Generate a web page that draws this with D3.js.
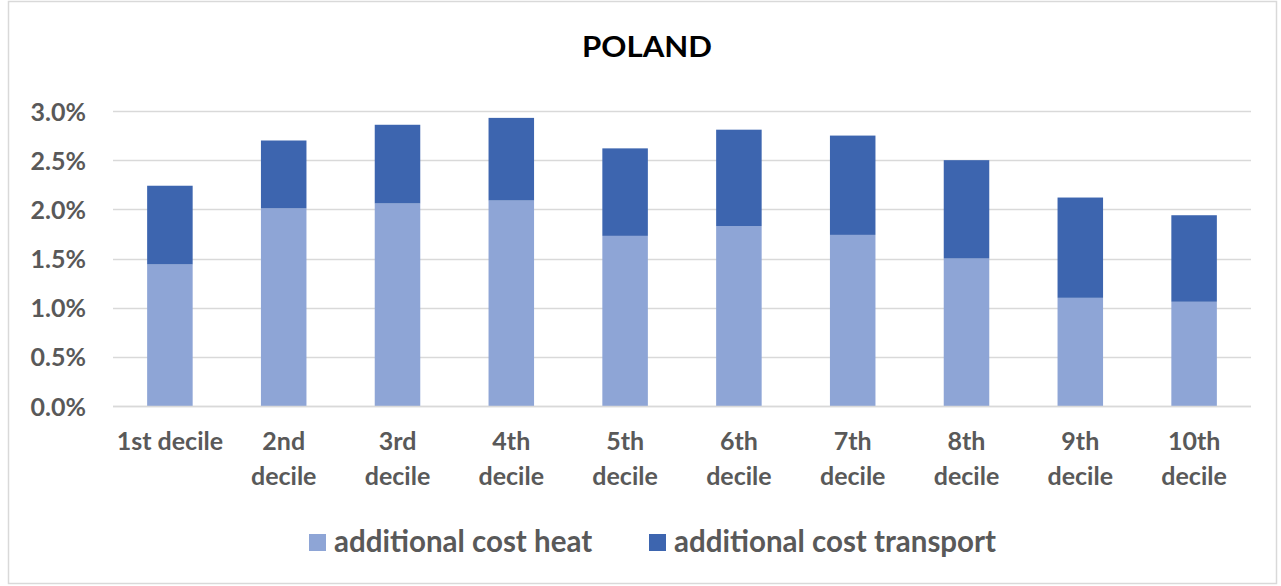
<!DOCTYPE html>
<html>
<head>
<meta charset="utf-8">
<script src="https://cdn.jsdelivr.net/npm/d3@7"></script>
<style>
  html, body { margin: 0; padding: 0; background: #fff; }
  svg text { font-family: Lato, "Open Sans", sans-serif; font-weight: bold; }
</style>
</head>
<body>
<svg id="chart" width="1281" height="586"></svg>
<script>
const title = "POLAND";
const categories = ["1st decile", "2nd decile", "3rd decile", "4th decile", "5th decile",
                    "6th decile", "7th decile", "8th decile", "9th decile", "10th decile"];
const categoryLabelLines = [["1st decile"], ["2nd", "decile"], ["3rd", "decile"], ["4th", "decile"], ["5th", "decile"],
                            ["6th", "decile"], ["7th", "decile"], ["8th", "decile"], ["9th", "decile"], ["10th", "decile"]];
const heat      = [1.44, 2.01, 2.06, 2.09, 1.73, 1.83, 1.74, 1.50, 1.10, 1.06];
const transport = [0.80, 0.69, 0.80, 0.84, 0.89, 0.98, 1.01, 1.00, 1.02, 0.88];
const seriesNames = ["additional cost heat", "additional cost transport"];
const seriesColors = ["#8EA5D6", "#3D65AF"];
const yTicks = [0, 0.5, 1.0, 1.5, 2.0, 2.5, 3.0];

const svg = d3.select("#chart");

// outer frame
svg.append("rect").attr("x", 8.5).attr("y", 1.5).attr("width", 1268).attr("height", 582)
  .attr("fill", "#fff").attr("stroke", "#d9d9d9").attr("stroke-width", 1.5);

const plot = { left: 113, right: 1251, top: 111, bottom: 406 };

const x = d3.scaleBand().domain(categories).range([plot.left, plot.right]).paddingInner(0.6).paddingOuter(0.3);
const y = d3.scaleLinear().domain([0, 3.0]).range([plot.bottom, plot.top]);

// gridlines
svg.append("g").selectAll("line").data(yTicks).join("line")
  .attr("x1", plot.left).attr("x2", plot.right)
  .attr("y1", d => Math.round(y(d)) + 0.5).attr("y2", d => Math.round(y(d)) + 0.5)
  .attr("stroke", "#d9d9d9").attr("stroke-width", 1.5);

// y axis labels
const yAxis = d3.axisLeft(y).tickValues(yTicks).tickFormat(d => d.toFixed(1) + "%").tickSize(0).tickPadding(27);
const gy = svg.append("g").attr("transform", `translate(${plot.left},0)`).call(yAxis);
gy.select(".domain").remove();
gy.selectAll("text").attr("fill", "#595959").style("font-size", "25px").attr("dy", "0.36em");

// stacked data
const rows = categories.map((c, i) => ({ cat: c, heat: heat[i], transport: transport[i] }));
const stack = d3.stack().keys(["heat", "transport"])(rows);

svg.append("g").selectAll("g").data(stack).join("g")
  .attr("fill", (d, i) => seriesColors[i])
  .selectAll("rect").data(d => d).join("rect")
  .attr("x", d => x(d.data.cat))
  .attr("width", x.bandwidth())
  .attr("y", d => y(d[1]))
  .attr("height", d => y(d[0]) - y(d[1]));

// baseline
svg.append("line").attr("x1", plot.left).attr("x2", plot.right)
  .attr("y1", plot.bottom + 0.5).attr("y2", plot.bottom + 0.5)
  .attr("stroke", "#d9d9d9").attr("stroke-width", 1.5);

// x labels
const xl = svg.append("g");
categories.forEach((c, i) => {
  const cx = x(c) + x.bandwidth() / 2;
  const t = xl.append("text").attr("text-anchor", "middle").attr("fill", "#595959")
    .style("font-size", "25px");
  categoryLabelLines[i].forEach((w, j) => {
    t.append("tspan").attr("x", cx).attr("y", 450 + j * 35).text(w);
  });
});

// title
svg.append("text").attr("x", 647).attr("y", 57).attr("text-anchor", "middle")
  .attr("fill", "#000").style("font-size", "28px")
  .attr("textLength", 130).attr("lengthAdjust", "spacingAndGlyphs").text(title);

// legend
const legendX = [309, 649];
const lg = svg.append("g");
seriesNames.forEach((n, i) => {
  lg.append("rect").attr("x", legendX[i]).attr("y", 534).attr("width", 17).attr("height", 17)
    .attr("fill", seriesColors[i]);
  lg.append("text").attr("x", legendX[i] + 25).attr("y", 552).attr("fill", "#595959")
    .style("font-size", "29.5px").text(n);
});
</script>
</body>
</html>
